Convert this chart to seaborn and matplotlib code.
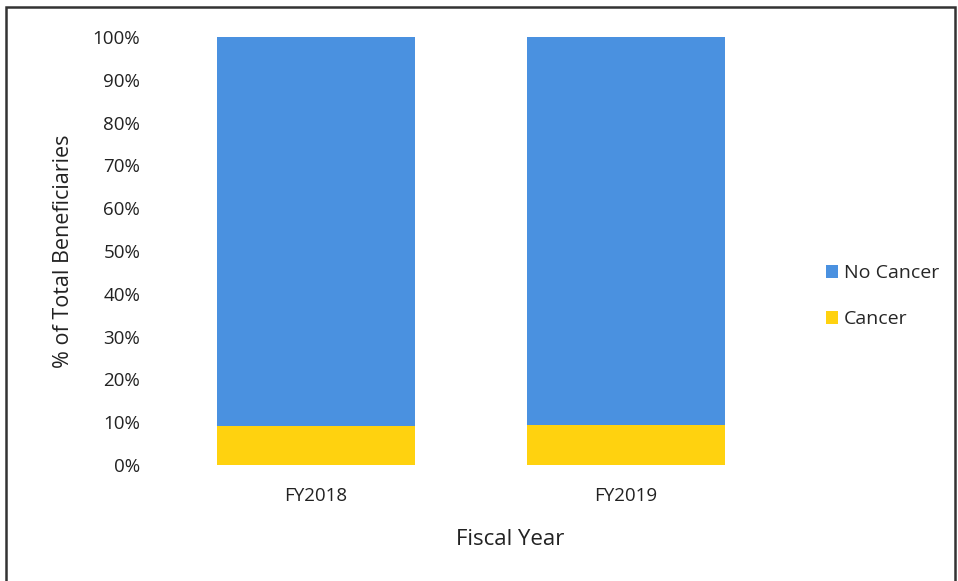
import matplotlib
matplotlib.use("Agg")
import matplotlib.pyplot as plt
import seaborn as sns
import pandas as pd
from matplotlib.patches import Rectangle
from matplotlib.ticker import PercentFormatter

years = ["FY2018", "FY2019"]
cancer = [9.2, 9.3]
no_cancer = [90.8, 90.7]

sns.set_style("white")
plt.rcParams['font.family'] = ['Open Sans', 'DejaVu Sans']

blue = "#4A91E0"
yellow = "#FFD20F"

df = pd.DataFrame({"year": years, "cancer": cancer, "no_cancer": no_cancer})
df["total"] = df["cancer"] + df["no_cancer"]

fig = plt.figure(figsize=(9.58, 5.81), dpi=100)
ax = fig.add_axes([161/958, 1 - 465/581, 620/958, 428/581])

sns.barplot(data=df, x="year", y="total", color=blue, width=0.64, ax=ax,
            saturation=1, label="No Cancer", linewidth=0)
sns.barplot(data=df, x="year", y="cancer", color=yellow, width=0.64, ax=ax,
            saturation=1, label="Cancer", linewidth=0)

ax.set_ylim(0, 100)
ax.set_xlim(-0.5, 1.5)
ax.set_yticks(range(0, 101, 10))
ax.yaxis.set_major_formatter(PercentFormatter(decimals=0))
ax.tick_params(axis="both", length=0, labelsize=13.5, colors="#222222")
ax.tick_params(axis="y", pad=15)
ax.tick_params(axis="x", pad=16)
for s in ax.spines.values():
    s.set_visible(False)
ax.set_xlabel("Fiscal Year", fontsize=16, labelpad=14, color="#222222")
ax.xaxis.set_label_coords((510 - 161) / 620, -0.15)
ax.set_ylabel("% of Total Beneficiaries", fontsize=15.5, labelpad=14, color="#222222")
ax.yaxis.set_label_coords(-(161 - 74) / 620, 0.5)

h, l = ax.get_legend_handles_labels()
leg = ax.legend(h, l, loc="center left", bbox_to_anchor=(808/958, 1 - 296/581),
                bbox_transform=fig.transFigure, frameon=False, fontsize=14,
                handlelength=0.65, handleheight=0.65, handletextpad=0.3,
                labelspacing=1.45)

fig.patches.append(Rectangle((6/958, -0.02), 949/958, 1.02 - 7/581,
                             transform=fig.transFigure, fill=False,
                             edgecolor="#333333", linewidth=1.8))

fig.savefig("out.png", dpi=100)
